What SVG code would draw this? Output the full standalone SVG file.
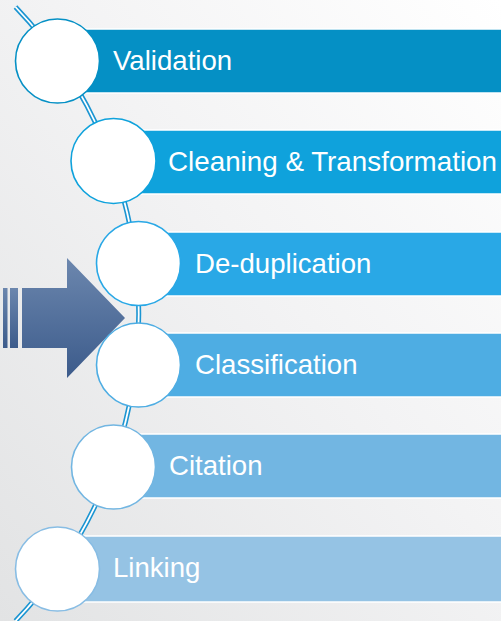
<svg xmlns="http://www.w3.org/2000/svg" width="501" height="621" viewBox="0 0 501 621">
<defs>
<linearGradient id="bg" x1="1" y1="0" x2="0" y2="1">
<stop offset="0" stop-color="#FFFFFF"/>
<stop offset="0.45" stop-color="#F3F3F4"/>
<stop offset="1" stop-color="#E2E3E4"/>
</linearGradient>
<linearGradient id="arr" x1="0" y1="0" x2="0" y2="1">
<stop offset="0" stop-color="#6C87AE"/>
<stop offset="1" stop-color="#3C5B8B"/>
</linearGradient>
<style>
.bar{stroke:#FFFFFF;stroke-width:1.5}
.circ{fill:#FFFFFF;stroke-width:1.6}
.lbl{font-family:"Liberation Sans",Arial,sans-serif;font-size:27.6px;fill:#FFFFFF}
.arcO{fill:none;stroke:#1B95D2;stroke-width:5}
.arcI{fill:none;stroke:#FFFFFF;stroke-width:1.8}
</style>
</defs>
<rect x="0" y="0" width="501" height="621" fill="url(#bg)"/>
<g id="connectors">
<path class="arcO" d="M 15.5 7 A 444 444 0 0 1 15.5 621"/>
<path class="arcI" d="M 15.5 7 A 444 444 0 0 1 15.5 621"/>
</g>
<g id="arrow" fill="url(#arr)">
<rect x="3" y="288" width="4.5" height="60"/>
<rect x="10" y="288" width="8" height="60"/>
<polygon points="22,288 67,288 67,258 125,318 67,378 67,348 22,348"/>
</g>
<g id="node-validation">
<rect class="bar" x="57" y="29" width="450" height="64" fill="#0590C5"/>
<circle class="circ" cx="57.5" cy="61" r="42" stroke="#0590C5"/>
<text class="lbl" x="113" y="70">Validation</text>
</g>
<g id="node-cleaning">
<rect class="bar" x="113" y="130" width="394" height="64" fill="#0FA2DC"/>
<circle class="circ" cx="113.5" cy="161" r="42.5" stroke="#0FA2DC"/>
<text class="lbl" x="168" y="171" textLength="329" lengthAdjust="spacingAndGlyphs">Cleaning &amp; Transformation</text>
</g>
<g id="node-dedup">
<rect class="bar" x="138" y="232" width="369" height="64" fill="#29A8E6"/>
<circle class="circ" cx="138.5" cy="263.5" r="42" stroke="#29A8E6"/>
<text class="lbl" x="195" y="273">De-duplication</text>
</g>
<g id="node-classification">
<rect class="bar" x="138" y="333" width="369" height="64" fill="#4EADE3"/>
<circle class="circ" cx="138.5" cy="365" r="42" stroke="#4EADE3"/>
<text class="lbl" x="195" y="374">Classification</text>
</g>
<g id="node-citation">
<rect class="bar" x="113" y="434" width="394" height="64" fill="#72B6E2"/>
<circle class="circ" cx="113.5" cy="467" r="42" stroke="#72B6E2"/>
<text class="lbl" x="169" y="475">Citation</text>
</g>
<g id="node-linking">
<rect class="bar" x="57" y="536" width="450" height="66" fill="#95C3E4"/>
<circle class="circ" cx="57.5" cy="569" r="42" stroke="#88BDE4"/>
<text class="lbl" x="113" y="577">Linking</text>
</g>
</svg>
